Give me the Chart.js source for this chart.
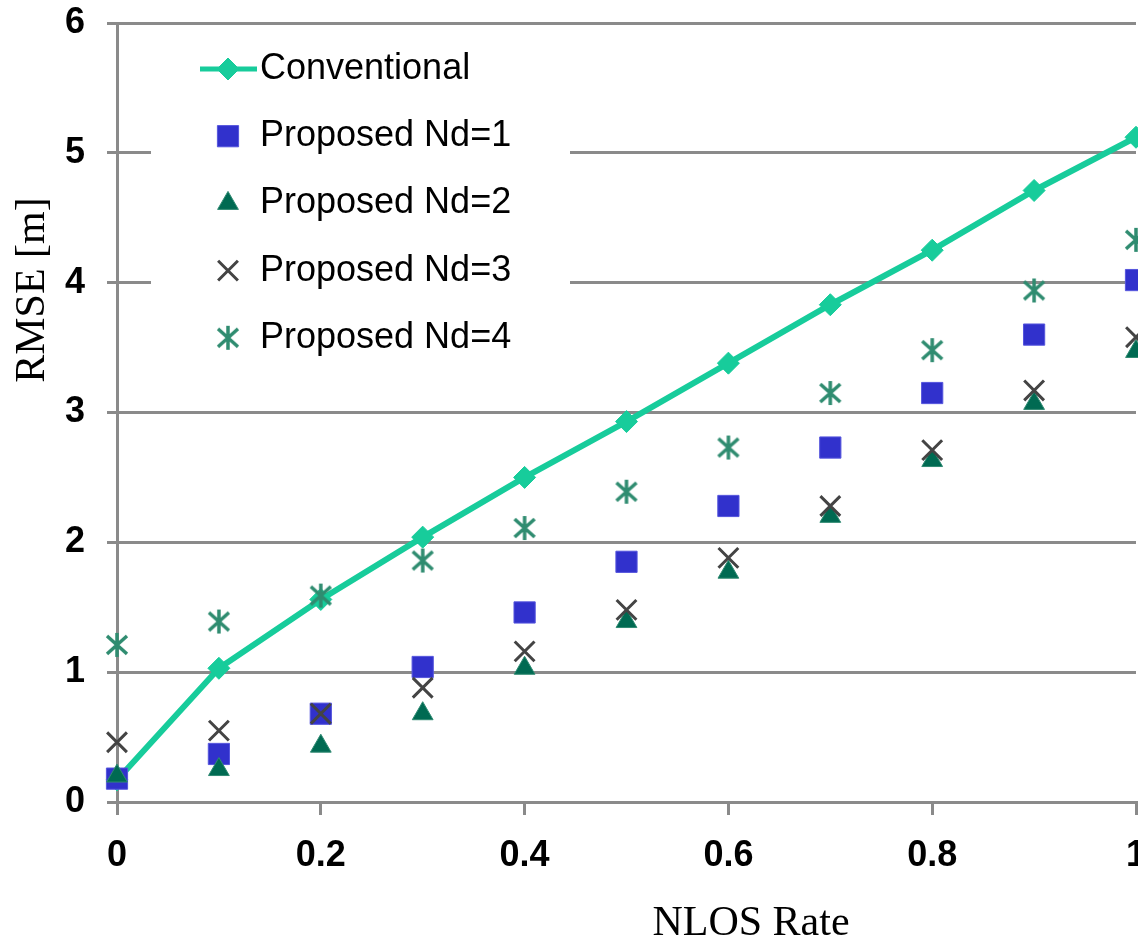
<!DOCTYPE html>
<html>
<head>
<meta charset="utf-8">
<script src="https://cdn.jsdelivr.net/npm/chart.js@4/dist/chart.umd.min.js"></script>
<style>
  html, body { margin: 0; padding: 0; background: #fff; overflow: hidden; }
  #wrap { width: 1138px; height: 944px; }
</style>
</head>
<body>
<div id="wrap"><canvas id="rmseChart" width="1138" height="944"></canvas></div>
<script>
// --- data ---
const nlosRate = [0, 0.1, 0.2, 0.3, 0.4, 0.5, 0.6, 0.7, 0.8, 0.9, 1.0];
const conventional = [0.17, 1.03, 1.56, 2.04, 2.50, 2.93, 3.38, 3.83, 4.25, 4.71, 5.12];
const nd1 = [0.18, 0.37, 0.68, 1.04, 1.46, 1.85, 2.28, 2.73, 3.15, 3.60, 4.02];
const nd2 = [0.20, 0.25, 0.43, 0.68, 1.03, 1.39, 1.77, 2.20, 2.63, 3.07, 3.47];
const nd3 = [0.46, 0.55, 0.68, 0.88, 1.16, 1.48, 1.88, 2.28, 2.71, 3.17, 3.58];
const nd4 = [1.21, 1.39, 1.59, 1.86, 2.11, 2.39, 2.73, 3.15, 3.48, 3.94, 4.33];

const xTicks = [0, 0.2, 0.4, 0.6, 0.8, 1];
const yTicks = [0, 1, 2, 3, 4, 5, 6];

const seriesNames = ["Conventional", "Proposed Nd=1", "Proposed Nd=2", "Proposed Nd=3", "Proposed Nd=4"];
const xTitle = "NLOS Rate";
const yTitle = "RMSE [m]";

const toPoints = arr => arr.map((v, i) => ({ x: nlosRate[i], y: v }));

// asterisk marker (vertical bar + X), like the excel one
function makeAsterisk(color) {
  const c = document.createElement("canvas");
  c.width = 26; c.height = 26;
  const g = c.getContext("2d");
  g.strokeStyle = color;
  g.lineWidth = 3.5;
  g.beginPath();
  g.moveTo(13, 1); g.lineTo(13, 25);
  g.moveTo(3, 4); g.lineTo(23, 22);
  g.moveTo(23, 4); g.lineTo(3, 22);
  g.stroke();
  return c;
}
const asterisk = makeAsterisk("#2f8c70");

const SANS = "'Liberation Sans', Arial, sans-serif";
const SERIF = "'Liberation Serif', 'Times New Roman', serif";
const GRID = "#8a8a8a";

// legend inside the plot on a white box + the two axis titles
// (both titles sit off-centre in the original, so they are drawn here)
const innerLegend = {
  id: "innerLegend",
  afterDraw(chart) {
    const ctx = chart.ctx;
    ctx.save();
    ctx.fillStyle = "#fff";
    ctx.fillRect(151, 31, 419, 340);
    const rowY = i => 69 + i * 67.2;
    const mx = 228;
    chart.data.datasets.forEach((ds, i) => {
      const y = rowY(i);
      if (i === 0) {
        ctx.strokeStyle = ds.borderColor;
        ctx.lineWidth = 5;
        ctx.beginPath();
        ctx.moveTo(200, y); ctx.lineTo(257, y);
        ctx.stroke();
      }
      ctx.fillStyle = ds.pointBackgroundColor;
      ctx.strokeStyle = ds.pointBorderColor;
      ctx.lineWidth = ds.pointBorderWidth || 1;
      Chart.helpers.drawPoint(ctx, {
        pointStyle: ds.pointStyle,
        radius: ds.pointRadius,
        borderWidth: ds.pointBorderWidth || 1,
        rotation: 0
      }, mx, y);
      ctx.fillStyle = "#000";
      ctx.font = "36px " + SANS;
      ctx.textAlign = "left";
      ctx.textBaseline = "middle";
      ctx.fillText(ds.label, 260, y);
    });

    ctx.fillStyle = "#000";
    ctx.font = "42px " + SERIF;
    ctx.textAlign = "center";
    ctx.textBaseline = "middle";
    ctx.fillText(xTitle, 751, 924);

    ctx.translate(33, 290);
    ctx.rotate(-Math.PI / 2);
    ctx.fillText(yTitle, 0, 0);
    ctx.restore();
  }
};

new Chart(document.getElementById("rmseChart"), {
  type: "scatter",
  data: {
    datasets: [
      {
        label: seriesNames[0],
        data: toPoints(conventional),
        showLine: true,
        borderColor: "#17cc9b",
        backgroundColor: "#17cc9b",
        borderWidth: 6,
        pointStyle: "rectRot",
        pointRadius: 11,
        pointBackgroundColor: "#17cc9b",
        pointBorderColor: "#17cc9b",
        pointBorderWidth: 1,
        order: 4,
        clip: false
      },
      {
        label: seriesNames[1],
        data: toPoints(nd1),
        pointStyle: "rect",
        pointRadius: 15,
        pointBackgroundColor: "#3131cc",
        pointBorderColor: "#5555dd",
        pointBorderWidth: 1,
        order: 3,
        clip: false
      },
      {
        label: seriesNames[2],
        data: toPoints(nd2),
        pointStyle: "triangle",
        pointRadius: 12,
        pointBackgroundColor: "#006a52",
        pointBorderColor: "#2f8a72",
        pointBorderWidth: 1,
        order: 2,
        clip: false
      },
      {
        label: seriesNames[3],
        data: toPoints(nd3),
        pointStyle: "crossRot",
        pointRadius: 14,
        pointBackgroundColor: "#444",
        pointBorderColor: "#444",
        pointBorderWidth: 3,
        order: 1,
        clip: false
      },
      {
        label: seriesNames[4],
        data: toPoints(nd4),
        pointStyle: asterisk,
        pointRadius: 13,
        pointBackgroundColor: "#2f8c70",
        pointBorderColor: "#2f8c70",
        order: 0,
        clip: false
      }
    ]
  },
  options: {
    responsive: false,
    animation: false,
    layout: { autoPadding: false, padding: { top: 23, right: 2, left: 0, bottom: 0 } },
    plugins: {
      legend: { display: false },
      tooltip: { enabled: false }
    },
    scales: {
      x: {
        type: "linear",
        min: 0,
        max: 1,
        afterBuildTicks: s => { s.ticks = xTicks.map(v => ({ value: v })); },
        afterFit: s => { s.height = 142; s.paddingLeft = 0; s.paddingRight = 0; },
        ticks: {
          color: "#000",
          padding: 19,
          maxRotation: 0,
          autoSkip: false,
          font: { family: SANS, size: 36, weight: "bold" },
          callback: v => String(Math.round(v * 10) / 10)
        },
        grid: {
          drawOnChartArea: false,
          drawTicks: true,
          tickLength: 13,
          color: GRID,
          lineWidth: 3
        },
        border: { display: true, color: GRID, width: 3 }
      },
      y: {
        type: "linear",
        min: 0,
        max: 6,
        afterBuildTicks: s => { s.ticks = yTicks.map(v => ({ value: v })); },
        afterFit: s => { s.width = 117; s.paddingTop = 0; s.paddingBottom = 0; },
        ticks: {
          color: "#000",
          padding: 22,
          font: { family: SANS, size: 36, weight: "bold" }
        },
        grid: {
          color: GRID,
          lineWidth: 3,
          drawTicks: true,
          tickLength: 10
        },
        border: { display: true, color: GRID, width: 3 }
      }
    }
  },
  plugins: [innerLegend]
});
</script>
</body>
</html>
